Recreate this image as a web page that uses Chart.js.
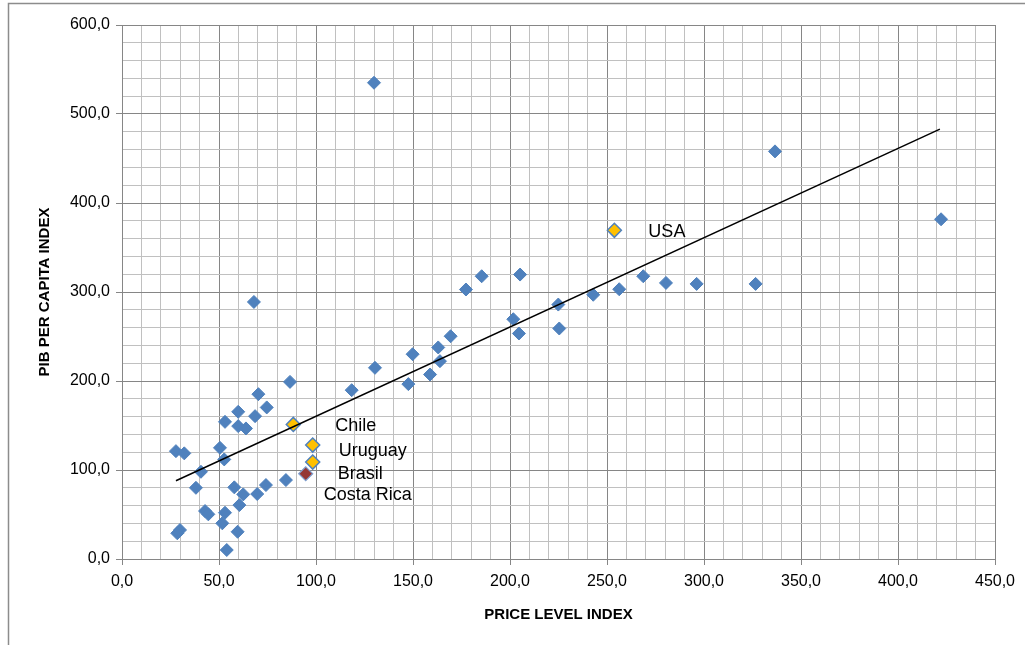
<!DOCTYPE html>
<html>
<head>
<meta charset="utf-8">
<script src="https://cdn.jsdelivr.net/npm/chart.js@4.4.1/dist/chart.umd.min.js"></script>
<style>
  html, body { margin: 0; padding: 0; background: #ffffff; }
  #wrap { width: 1025px; height: 645px; position: relative; }
</style>
</head>
<body>
<div id="wrap"><canvas id="c" width="1025" height="645"></canvas></div>
<script>
// ---- Data ----
const priceLevel = [27.8, 32.1, 50.5, 52.7, 40.7, 38.1, 57.9, 62.5, 74.2, 69.7, 84.5, 60.5, 42.8, 44.5, 53.1, 51.7, 59.6, 29.9, 28.5, 54.0,
  86.6, 70.3, 74.6, 59.9, 68.6, 53.1, 59.9, 63.9, 68.0, 129.9,
  118.4, 130.4, 147.6, 149.8, 158.8, 163.9, 163.0, 169.4, 177.3, 185.4, 205.2, 201.7, 204.6, 224.9, 225.4,
  242.9, 256.3, 268.7, 280.4, 296.2, 326.6, 336.6, 422.2];
const pibPerCapita = [121.2, 118.7, 124.9, 111.9, 98.0, 80.0, 80.5, 72.6, 83.1, 73.0, 88.7, 60.6, 53.9, 50.2, 52.0, 40.1, 30.6, 32.6, 28.9, 10.1,
  199.0, 185.2, 170.3, 165.4, 160.5, 154.1, 149.3, 146.7, 288.8, 535.1,
  189.7, 214.8, 196.5, 230.1, 207.3, 222.3, 237.7, 250.3, 302.8, 317.7, 319.6, 269.4, 253.4, 285.9, 259.0,
  296.9, 303.1, 317.7, 310.2, 309.1, 309.1, 458.0, 381.7];

const namedCountries = ['Chile', 'Uruguay', 'Brasil', 'USA'];
const namedPrice = [88.3, 98.3, 98.3, 253.8];
const namedPib = [151.2, 128.0, 108.9, 369.3];

const redCountries = ['Costa Rica'];
const redPrice = [94.7];
const redPib = [95.8];

const trendPrice = [27.8, 421.6];
const trendPib = [87.9, 483.0];

const xTickLabels = ['0,0', '50,0', '100,0', '150,0', '200,0', '250,0', '300,0', '350,0', '400,0', '450,0'];
const yTickLabels = ['0,0', '100,0', '200,0', '300,0', '400,0', '500,0', '600,0'];
const xTitle = 'PRICE LEVEL INDEX';
const yTitle = 'PIB PER CAPITA INDEX';

// ---- helpers ----
const toPts = (xs, ys) => xs.map((x, i) => ({ x: x, y: ys[i] }));
const MAJOR = '#868686';
const MINOR = '#c0c0c0';
const BLUE = '#4F81BD';

// label placement (pixel offsets from the marker)
const labelOffsets = {
  'Chile': [42, 0],
  'Uruguay': [26, 5],
  'Brasil': [25, 11],
  'USA': [34, 0],
  'Costa Rica': [18, 20]
};

const frame = {
  id: 'frame',
  beforeDraw(chart) {
    const ctx = chart.ctx;
    ctx.save();
    ctx.fillStyle = '#ffffff';
    ctx.fillRect(0, 0, chart.width, chart.height);
    ctx.strokeStyle = '#8c8c8c';
    ctx.lineWidth = 1.5;
    ctx.beginPath();
    ctx.moveTo(8.5, 645);
    ctx.lineTo(8.5, 3.5);
    ctx.lineTo(1025, 3.5);
    ctx.stroke();
    ctx.restore();
  }
};

const pointLabels = {
  id: 'pointLabels',
  afterDatasetsDraw(chart) {
    const ctx = chart.ctx;
    const xs = chart.scales.x, ys = chart.scales.y;
    ctx.save();
    ctx.font = '18px "Liberation Sans", Arial, sans-serif';
    ctx.fillStyle = '#000000';
    ctx.textAlign = 'left';
    ctx.textBaseline = 'alphabetic';
    const draw = (names, px, py) => {
      names.forEach((n, i) => {
        const off = labelOffsets[n] || [10, 0];
        const x = xs.getPixelForValue(px[i]) + off[0];
        const y = ys.getPixelForValue(py[i]) + off[1] + 6.4;
        ctx.fillText(n, x, y);
      });
    };
    draw(namedCountries, namedPrice, namedPib);
    draw(redCountries, redPrice, redPib);
    ctx.restore();
  }
};

const majorOf = (v, step) => Math.abs(Math.round(v) % step) === 0;

new Chart(document.getElementById('c'), {
  type: 'scatter',
  data: {
    datasets: [
      {
        type: 'line',
        label: 'trend',
        data: toPts(trendPrice, trendPib),
        borderColor: '#000000',
        borderWidth: 1.5,
        pointRadius: 0,
        fill: false,
        tension: 0
      },
      {
        label: 'named',
        data: toPts(namedPrice, namedPib),
        pointStyle: 'rectRot',
        pointRadius: 7,
        backgroundColor: '#FFC000',
        borderColor: BLUE,
        borderWidth: 1.5
      },
      {
        label: 'Costa Rica',
        data: toPts(redPrice, redPib),
        pointStyle: 'rectRot',
        pointRadius: 7,
        backgroundColor: '#953735',
        borderColor: '#7f9fcf',
        borderWidth: 1.2
      },
      {
        label: 'countries',
        data: toPts(priceLevel, pibPerCapita),
        pointStyle: 'rectRot',
        pointRadius: 6.5,
        backgroundColor: BLUE,
        borderColor: BLUE,
        borderWidth: 1
      }
    ]
  },
  options: {
    responsive: false,
    animation: false,
    events: [],
    layout: { padding: { left: 0, right: 30, top: 25, bottom: 0 } },
    plugins: {
      legend: { display: false },
      tooltip: { enabled: false },
      title: { display: false }
    },
    scales: {
      x: {
        type: 'linear',
        min: 0, max: 450,
        afterFit(s) { s.height = 86; },
        ticks: {
          stepSize: 10,
          autoSkip: false,
          maxTicksLimit: 100,
          maxRotation: 0,
          padding: 7,
          color: '#000000',
          font: { family: '"Liberation Sans", Arial, sans-serif', size: 16 },
          callback: (v) => majorOf(v, 50) ? xTickLabels[Math.round(v) / 50] : ''
        },
        grid: {
          color: (c) => (c.tick && majorOf(c.tick.value, 50)) ? MAJOR : MINOR,
          tickColor: (c) => (c.tick && majorOf(c.tick.value, 50)) ? MAJOR : 'rgba(0,0,0,0)',
          tickLength: 6,
          lineWidth: 1
        },
        border: { color: MAJOR, width: 1 },
        title: {
          display: true,
          text: xTitle,
          color: '#000000',
          font: { family: '"Liberation Sans", Arial, sans-serif', size: 15, weight: 'bold' },
          padding: { top: 0, bottom: 21 }
        }
      },
      y: {
        type: 'linear',
        min: 0, max: 600,
        afterFit(s) { s.width = 122; },
        ticks: {
          stepSize: 20,
          autoSkip: false,
          maxTicksLimit: 100,
          padding: 6,
          color: '#000000',
          font: { family: '"Liberation Sans", Arial, sans-serif', size: 16 },
          callback: (v) => majorOf(v, 100) ? yTickLabels[Math.round(v) / 100] : ''
        },
        grid: {
          color: (c) => (c.tick && majorOf(c.tick.value, 100)) ? MAJOR : MINOR,
          tickColor: (c) => (c.tick && majorOf(c.tick.value, 100)) ? MAJOR : 'rgba(0,0,0,0)',
          tickLength: 6,
          lineWidth: 1
        },
        border: { color: MAJOR, width: 1 },
        title: {
          display: true,
          text: yTitle,
          color: '#000000',
          font: { family: '"Liberation Sans", Arial, sans-serif', size: 15, weight: 'bold' },
          padding: { top: 36, bottom: 0 }
        }
      }
    }
  },
  plugins: [frame, pointLabels]
});
</script>
</body>
</html>
